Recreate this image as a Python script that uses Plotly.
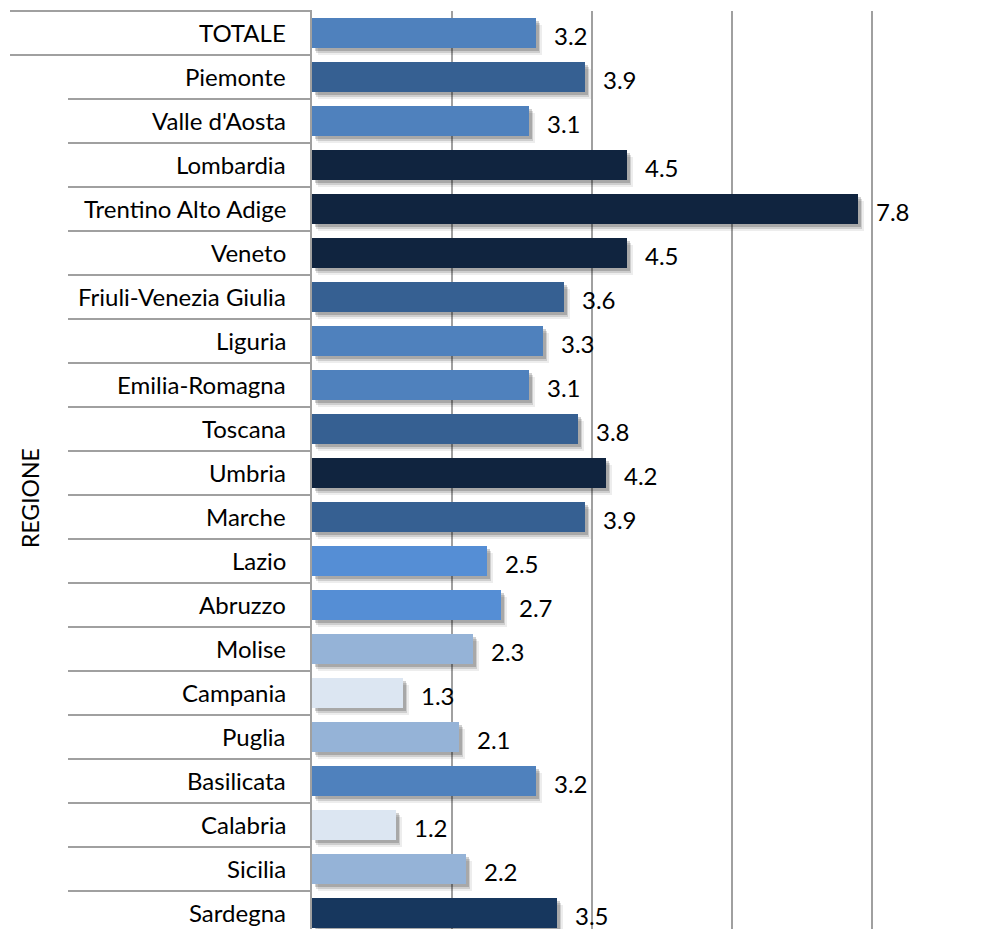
import plotly.graph_objects as go

regions = ["TOTALE", "Piemonte", "Valle d'Aosta", "Lombardia", "Trentino Alto Adige",
           "Veneto", "Friuli-Venezia Giulia", "Liguria", "Emilia-Romagna", "Toscana",
           "Umbria", "Marche", "Lazio", "Abruzzo", "Molise", "Campania", "Puglia",
           "Basilicata", "Calabria", "Sicilia", "Sardegna"]
values = [3.2, 3.9, 3.1, 4.5, 7.8, 4.5, 3.6, 3.3, 3.1, 3.8, 4.2, 3.9, 2.5, 2.7, 2.3,
          1.3, 2.1, 3.2, 1.2, 2.2, 3.5]
colors = ["#4F81BD", "#366092", "#4F81BD", "#10243F", "#10243F", "#10243F", "#366092",
          "#4F81BD", "#4F81BD", "#366092", "#10243F", "#366092", "#558ED5", "#558ED5",
          "#95B3D7", "#DCE6F2", "#95B3D7", "#4F81BD", "#DCE6F2", "#95B3D7", "#17375E"]
gridvals = [0, 2, 4, 6, 8]
axis_title = "REGIONE"

ys = list(range(len(regions)))
W = 1000
H = 929
ML, MT = 312, 11
row_px = 44.0
plot_h = H - MT
plot_w = W - ML
x_px_per_unit = 70.0
x_max = plot_w / x_px_per_unit
y_bottom = -0.5 + plot_h / row_px

BW = 0.68
FONT = "Lato"
FS = 24

fig = go.Figure()

# soft shadow layers
for dxp, dyp, col in [(6, 7, "rgba(0,0,0,0.07)"), (4, 5, "rgba(0,0,0,0.13)"), (3, 3, "rgba(0,0,0,0.18)")]:
    fig.add_trace(go.Bar(
        y=ys, x=values, base=dxp / x_px_per_unit, orientation="h", width=BW,
        offset=-BW / 2 + dyp / row_px, marker=dict(color=col, line=dict(width=0)),
        hoverinfo="skip", showlegend=False))

fig.add_trace(go.Bar(
    y=ys, x=values, orientation="h", width=BW, offset=-BW / 2,
    marker=dict(color=colors, line=dict(width=0)), showlegend=False))

annotations = []
for i, (r, v) in enumerate(zip(regions, values)):
    annotations.append(dict(x=0, y=i, xref="x", yref="y", text=r, showarrow=False,
                            xanchor="right", xshift=-24, yshift=1,
                            font=dict(family=FONT, size=FS, color="#000")))
    annotations.append(dict(x=v, y=i, xref="x", yref="y", text=f"{v:.1f}", showarrow=False,
                            xanchor="left", xshift=16, yshift=-2,
                            font=dict(family=FONT, size=FS, color="#000")))
annotations.append(dict(x=0, y=1 - (498 - MT) / plot_h, xref="paper", yref="paper",
                        xanchor="center", yanchor="middle",
                        xshift=-(ML - 30), text=axis_title, showarrow=False, textangle=-90,
                        font=dict(family=FONT, size=23, color="#000")))


def ypaper(yv):
    return (y_bottom - yv) / (y_bottom + 0.5)


shapes = []
for k in range(len(regions)):
    yb = ypaper(k - 0.5)
    start_px = 10 if k <= 1 else 68
    shapes.append(dict(type="line", xref="paper", yref="paper",
                       x0=-(ML - start_px) / plot_w, x1=0, y0=yb, y1=yb,
                       line=dict(color="#A0A0A0", width=2)))

fig.update_layout(
    width=W, height=H, margin=dict(l=ML, r=0, t=MT, b=0),
    paper_bgcolor="white", plot_bgcolor="white", barmode="overlay",
    xaxis=dict(range=[0, x_max], tickvals=gridvals, showticklabels=False, showgrid=True,
               gridcolor="#A0A0A0", gridwidth=2, zeroline=False, showline=False, fixedrange=True),
    yaxis=dict(range=[y_bottom, -0.5], showticklabels=False, showgrid=False, zeroline=False,
               showline=True, linecolor="#A0A0A0", linewidth=2, fixedrange=True),
    annotations=annotations, shapes=shapes,
)

fig.write_html("out.html")
